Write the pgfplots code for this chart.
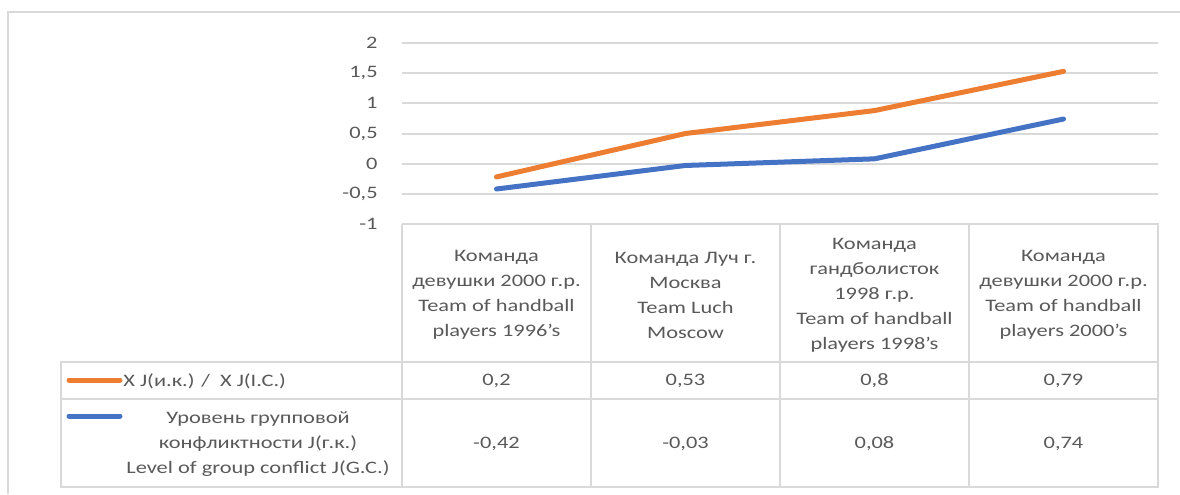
\documentclass[border=0pt]{standalone}
\usepackage{fontspec}
\setmainfont{Carlito}[FakeStretch=1.28]
\usepackage{pgfplots}
\pgfplotsset{compat=1.18}
\definecolor{txt}{HTML}{595959}
\definecolor{gridc}{HTML}{D9D9D9}
\definecolor{orn}{HTML}{ED7D31}
\definecolor{blu}{HTML}{4472C4}
\begin{document}
\begin{tikzpicture}
\useasboundingbox (0,0) rectangle (590pt,247pt);
\begin{axis}[at={(201pt,135pt)}, anchor=south west, scale only axis,
  width=378pt, height=90.5pt, xmin=-0.5, xmax=3.5, ymin=-1, ymax=2,
  xtick=\empty, ytick={-1,-0.5,0,0.5,1,1.5,2},
  yticklabels={{-1},{-0,5},{0},{0,5},{1},{1,5},{2}},
  ymajorgrids, grid style={draw=gridc, line width=1pt},
  axis line style={draw=none}, major tick length=0pt,
  yticklabel style={font=\fontsize{8.75}{10}\selectfont, text=txt, inner sep=0pt, xshift=-12pt},
  clip=false]
\addplot[blu, line width=2.5pt, line cap=round, line join=round] coordinates {(0,-0.42) (1,-0.03) (2,0.08) (3,0.74)};
\addplot[orn, line width=2.5pt, line cap=round, line join=round] coordinates {(0,-0.22) (1,0.50) (2,0.88) (3,1.53)};
\end{axis}
\begin{scope}[x=0.5pt,y=-0.5pt,shift={(0,247pt)}, every node/.style={text=txt, font=\fontsize{8.75}{12.5}\selectfont, inner sep=0pt}]
\draw[gridc, line width=1pt] (8,494) -- (8,12) -- (1180,12);
\draw[gridc, line width=1pt] (402,224) -- (1158,224) -- (1158,487) -- (61,487) -- (61,362) -- (1158,362);
\draw[gridc, line width=1pt] (61,399) -- (1158,399);
\foreach \xx in {402,591,780,969} \draw[gridc, line width=1pt] (\xx,224) -- (\xx,487);
\node[align=center] at (496.5,295) {Команда\\девушки 2000 г.р.\\Team of handball\\players 1996’s};
\node[align=center] at (685.5,295) {Команда Луч г.\\Москва\\Team Luch\\Moscow};
\node[align=center] at (874.5,295) {Команда\\гандболисток\\1998 г.р.\\Team of handball\\players 1998’s};
\node[align=center] at (1063.5,295) {Команда\\девушки 2000 г.р.\\Team of handball\\players 2000’s};
\node at (496.5,381) {0,2};
\node at (685.5,381) {0,53};
\node at (874.5,381) {0,8};
\node at (1063.5,381) {0,79};
\node at (496.5,444) {-0,42};
\node at (685.5,444) {-0,03};
\node at (874.5,444) {0,08};
\node at (1063.5,444) {0,74};
\draw[orn, line width=2.5pt, line cap=round] (69,380) -- (120,380);
\draw[blu, line width=2.5pt, line cap=round] (69,416) -- (120,416);
\node[anchor=west] at (123,381) {X J(и.к.) /\ \ X J(I.C.)};
\node[align=center] at (258,444) {Уровень групповой\\конфликтности J(г.к.)\\Level of group conflict J(G.C.)};
\end{scope}
\end{tikzpicture}
\end{document}
